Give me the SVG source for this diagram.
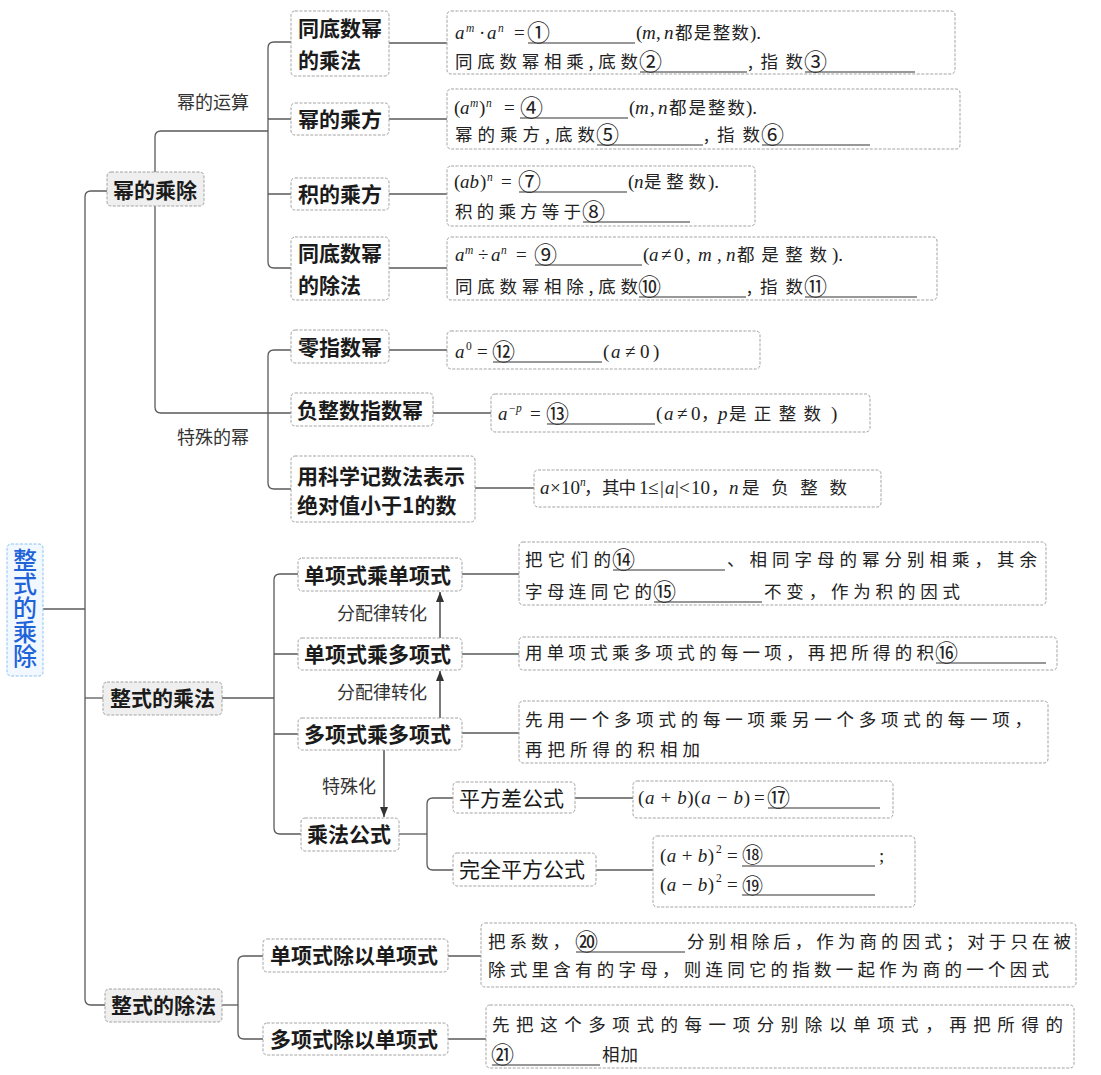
<svg xmlns="http://www.w3.org/2000/svg" width="1101" height="1075" viewBox="0 0 1101 1075">
<defs>
<style>
.nb{fill:#fff;stroke:#a3a3a3;stroke-width:1;stroke-dasharray:3 1.5}
.nb1{fill:#efefef}
.root{fill:#f2f8ff;stroke:#8ec3ee;stroke-width:1;stroke-dasharray:3 1.5}
.db{fill:#fff;stroke:#a3a3a3;stroke-width:1;stroke-dasharray:3 1.5}
.c{fill:none;stroke:#5a5a5a;stroke-width:1.3}
.ar{fill:none;stroke:#333;stroke-width:1.3}
.t{font-family:"Noto Sans CJK SC","Noto Sans",sans-serif;font-size:21px;font-weight:700;fill:#1b1b1b}
.tr{font-weight:400}
.rt{font-family:"Noto Sans CJK SC",sans-serif;font-size:24px;font-weight:500;fill:#1f63d8}
.el{font-family:"Noto Sans CJK SC",sans-serif;font-size:18px;fill:#333}
.z{font-family:"Noto Sans CJK SC",sans-serif;font-size:17.5px;fill:#222}
.m{font-family:"Liberation Serif","Noto Sans CJK SC",serif;font-size:19px;fill:#222}
.i{font-style:italic}
.s{font-size:11.5px}
.q{font-family:"Noto Sans CJK SC",sans-serif;font-size:23px;fill:#222}
.q2{font-size:21px}
.u{stroke:#333;stroke-width:1.1}
</style>
<marker id="ah" viewBox="0 0 10 8" refX="10" refY="4" markerWidth="10" markerHeight="8" markerUnits="userSpaceOnUse" orient="auto"><path d="M0,0 L10,4 L0,8 z" fill="#333"/></marker>
</defs>
<rect width="1101" height="1075" fill="#fff"/>

<g id="connectors">
<path class="c" d="M43,609 H85"/>
<path class="c" d="M107,191 H91 Q85,191 85,197 V999 Q85,1005 91,1005 H105"/>
<path class="c" d="M85,698 H103"/>
<path class="c" d="M155,172 V137 Q155,131 161,131 H268"/>
<path class="c" d="M291,42 H274 Q268,42 268,48 V262 Q268,268 274,268 H291"/>
<path class="c" d="M268,119 H291 M268,194 H291"/>
<path class="c" d="M155,206 V407 Q155,413 161,413 H291"/>
<path class="c" d="M291,350 H274 Q268,350 268,356 V483 Q268,489 274,489 H291"/>
<path class="c" d="M389,43 H447 M389,119 H447 M389,194 H447 M389,268 H447 M389,350 H447 M433,413 H491 M475,488 H534"/>
<path class="c" d="M222,698 H274"/>
<path class="c" d="M298,574 H280 Q274,574 274,580 V828 Q274,834 280,834 H301"/>
<path class="c" d="M274,654 H298 M274,734 H298"/>
<path class="ar" d="M440,638 V592" marker-end="url(#ah)"/>
<path class="ar" d="M440,718 V671" marker-end="url(#ah)"/>
<path class="ar" d="M384,750 V817" marker-end="url(#ah)"/>
<path class="c" d="M462,574 H519 M462,654 H519 M462,733 H519"/>
<path class="c" d="M399,834 H427"/>
<path class="c" d="M453,798 H433 Q427,798 427,804 V864 Q427,870 433,870 H453"/>
<path class="c" d="M575,798 H633 M596,870 H653"/>
<path class="c" d="M222,1005 H238"/>
<path class="c" d="M263,956 H244 Q238,956 238,962 V1033 Q238,1039 244,1039 H263"/>
<path class="c" d="M448,956 H481 M448,1039 H486"/>
<text class="el" x="177" y="109">幂的运算</text>
<text class="el" x="177" y="444">特殊的幂</text>
<text class="el" x="337" y="620">分配律转化</text>
<text class="el" x="337" y="699">分配律转化</text>
<text class="el" x="322" y="793">特殊化</text>
</g>

<g id="root">
<rect class="root" x="7" y="544" width="36" height="132" rx="4"/>
<text class="rt" x="25" y="548" style="writing-mode:vertical-rl">整式的乘除</text>
</g>

<g id="n-mi">
<rect class="nb nb1" x="107" y="172" width="97" height="34" rx="4"/>
<text class="t" x="113" y="198">幂的乘除</text>
</g>
<g id="n-zcf">
<rect class="nb nb1" x="103" y="682" width="119" height="33" rx="4"/>
<text class="t" x="110" y="706">整式的乘法</text>
</g>
<g id="n-zcuf">
<rect class="nb nb1" x="105" y="989" width="117" height="33" rx="4"/>
<text class="t" x="111" y="1013">整式的除法</text>
</g>

<g id="n-tdscf">
<rect class="nb" x="291" y="11" width="98" height="65" rx="4"/>
<text class="t" x="298" y="36">同底数幂</text>
<text class="t" x="298" y="68">的乘法</text>
</g>
<g id="n-mdcf">
<rect class="nb" x="291" y="103" width="98" height="32" rx="4"/>
<text class="t" x="298" y="127">幂的乘方</text>
</g>
<g id="n-jdcf">
<rect class="nb" x="291" y="178" width="98" height="32" rx="4"/>
<text class="t" x="298" y="202">积的乘方</text>
</g>
<g id="n-tdscuf">
<rect class="nb" x="291" y="237" width="98" height="63" rx="4"/>
<text class="t" x="298" y="261">同底数幂</text>
<text class="t" x="298" y="293">的除法</text>
</g>
<g id="n-lzsm">
<rect class="nb" x="291" y="330" width="98" height="33" rx="4"/>
<text class="t" x="298" y="355">零指数幂</text>
</g>
<g id="n-fzs">
<rect class="nb" x="291" y="393" width="142" height="33" rx="4"/>
<text class="t" x="297" y="418">负整数指数幂</text>
</g>
<g id="n-kxjs">
<rect class="nb" x="291" y="456" width="184" height="66" rx="4"/>
<text class="t" x="297" y="484">用科学记数法表示</text>
<text class="t" x="297" y="513">绝对值小于1的数</text>
</g>

<g id="n-dd">
<rect class="nb" x="298" y="558" width="164" height="33" rx="4"/>
<text class="t" x="304" y="583">单项式乘单项式</text>
</g>
<g id="n-dp">
<rect class="nb" x="298" y="638" width="164" height="32" rx="4"/>
<text class="t" x="304" y="662">单项式乘多项式</text>
</g>
<g id="n-pp">
<rect class="nb" x="298" y="718" width="164" height="32" rx="4"/>
<text class="t" x="304" y="742">多项式乘多项式</text>
</g>
<g id="n-cfgs">
<rect class="nb" x="301" y="818" width="98" height="33" rx="4"/>
<text class="t" x="307" y="842">乘法公式</text>
</g>
<g id="n-pfc">
<rect class="nb" x="453" y="782" width="122" height="31" rx="4"/>
<text class="t tr" x="459" y="806">平方差公式</text>
</g>
<g id="n-wqpf">
<rect class="nb" x="453" y="853" width="143" height="33" rx="4"/>
<text class="t tr" x="459" y="877">完全平方公式</text>
</g>
<g id="n-ddc">
<rect class="nb" x="263" y="939" width="185" height="33" rx="4"/>
<text class="t" x="270" y="963">单项式除以单项式</text>
</g>
<g id="n-pdc">
<rect class="nb" x="263" y="1023" width="185" height="32" rx="4"/>
<text class="t" x="270" y="1047">多项式除以单项式</text>
</g>

<g id="d1">
<rect class="db" x="447" y="11" width="508" height="63" rx="4"/>
<text class="m" y="39"><tspan class="i" x="455">a</tspan><tspan class="i s" x="466" y="32">m</tspan><tspan x="479" y="39">·</tspan><tspan class="i" x="487">a</tspan><tspan class="i s" x="498" y="32">n</tspan><tspan x="514" y="39">=</tspan></text>
<text class="q" x="527" y="41">①</text>
<line class="u" x1="528" y1="43" x2="635" y2="43"/>
<text class="m" y="39"><tspan x="636">(</tspan><tspan class="i" x="642">m</tspan><tspan x="656">,</tspan><tspan class="i" x="664">n</tspan></text>
<text class="z" x="675" y="39" textLength="74">都是整数</text>
<text class="m" x="750" y="39">).</text>
<text class="z" x="455" y="68" textLength="183">同底数幂相乘,底数</text>
<text class="q" x="639" y="70">②</text>
<line class="u" x1="640" y1="72" x2="747" y2="72"/>
<text class="z" x="748" y="68" textLength="55">,指数</text>
<text class="q" x="804" y="70">③</text>
<line class="u" x1="805" y1="72" x2="915" y2="72"/>
</g>

<g id="d2">
<rect class="db" x="447" y="89" width="513" height="60" rx="4"/>
<text class="m" y="114"><tspan x="454">(</tspan><tspan class="i" x="460">a</tspan><tspan class="i s" x="470" y="107">m</tspan><tspan x="479" y="114">)</tspan><tspan class="i s" x="486" y="107">n</tspan><tspan x="504" y="114">=</tspan></text>
<text class="q" x="520" y="116">④</text>
<line class="u" x1="520" y1="118" x2="628" y2="118"/>
<text class="m" y="114"><tspan x="629">(</tspan><tspan class="i" x="635">m</tspan><tspan x="650">,</tspan><tspan class="i" x="658">n</tspan></text>
<text class="z" x="669" y="114" textLength="76">都是整数</text>
<text class="m" x="746" y="114">).</text>
<text class="z" x="455" y="141" textLength="140">幂的乘方,底数</text>
<text class="q" x="596" y="143">⑤</text>
<line class="u" x1="597" y1="145" x2="703" y2="145"/>
<text class="z" x="704" y="141" textLength="56">,指数</text>
<text class="q" x="761" y="143">⑥</text>
<line class="u" x1="762" y1="145" x2="870" y2="145"/>
</g>

<g id="d3">
<rect class="db" x="447" y="166" width="308" height="60" rx="4"/>
<text class="m" y="188"><tspan x="454">(</tspan><tspan class="i" x="460">ab</tspan><tspan x="480">)</tspan><tspan class="i s" x="487" y="181">n</tspan><tspan x="501" y="188">=</tspan></text>
<text class="q" x="518" y="190">⑦</text>
<line class="u" x1="519" y1="192" x2="627" y2="192"/>
<text class="m" y="188"><tspan x="628">(</tspan><tspan class="i" x="634">n</tspan></text>
<text class="z" x="644" y="188" textLength="62">是整数</text>
<text class="m" x="708" y="188">).</text>
<text class="z" x="455" y="218" textLength="126">积的乘方等于</text>
<text class="q" x="582" y="220">⑧</text>
<line class="u" x1="583" y1="222" x2="690" y2="222"/>
</g>

<g id="d4">
<rect class="db" x="447" y="237" width="490" height="63" rx="4"/>
<text class="m" y="261"><tspan class="i" x="455">a</tspan><tspan class="i s" x="465" y="254">m</tspan><tspan x="478" y="261">÷</tspan><tspan class="i" x="491">a</tspan><tspan class="i s" x="501" y="254">n</tspan><tspan x="516" y="261">=</tspan></text>
<text class="q" x="534" y="263">⑨</text>
<line class="u" x1="535" y1="265" x2="642" y2="265"/>
<text class="m" y="261"><tspan x="643">(</tspan><tspan class="i" x="649">a</tspan><tspan x="661">≠</tspan><tspan x="674">0</tspan><tspan x="686">,</tspan><tspan class="i" x="698">m</tspan><tspan x="717">,</tspan><tspan class="i" x="726">n</tspan></text>
<text class="z" x="737" y="261" textLength="90">都是整数</text>
<text class="m" x="832" y="261">).</text>
<text class="z" x="455" y="293" textLength="183">同底数幂相除,底数</text>
<text class="q" x="638" y="295">⑩</text>
<line class="u" x1="639" y1="297" x2="746" y2="297"/>
<text class="z" x="747" y="293" textLength="56">,指数</text>
<text class="q" x="804" y="295">⑪</text>
<line class="u" x1="805" y1="297" x2="917" y2="297"/>
</g>

<g id="d12">
<rect class="db" x="447" y="331" width="313" height="38" rx="4"/>
<text class="m" y="358"><tspan class="i" x="455">a</tspan><tspan class="s" x="466" y="350">0</tspan><tspan x="477" y="358">=</tspan></text>
<text class="q" x="492" y="360">⑫</text>
<line class="u" x1="493" y1="362" x2="602" y2="362"/>
<text class="m" y="358"><tspan x="603">(</tspan><tspan class="i" x="611">a</tspan><tspan x="625">≠</tspan><tspan x="640">0</tspan><tspan x="653">)</tspan></text>
</g>

<g id="d13">
<rect class="db" x="491" y="394" width="379" height="38" rx="4"/>
<text class="m" y="420"><tspan class="i" x="498">a</tspan><tspan class="s" x="509" y="412">−</tspan><tspan class="i s" x="516" y="412">p</tspan><tspan x="530" y="420">=</tspan></text>
<text class="q" x="546" y="422">⑬</text>
<line class="u" x1="547" y1="424" x2="655" y2="424"/>
<text class="m" y="420"><tspan x="656">(</tspan><tspan class="i" x="664">a</tspan><tspan x="677">≠</tspan><tspan x="691">0</tspan></text>
<text class="z" x="701" y="420">，</text>
<text class="m i" x="718" y="420">p</text>
<text class="z" x="729" y="420" textLength="92">是正整数</text>
<text class="m" x="831" y="420">)</text>
</g>

<g id="d-sci">
<rect class="db" x="534" y="470" width="347" height="37" rx="4"/>
<text class="m" y="494"><tspan class="i" x="540">a</tspan><tspan x="550">×</tspan><tspan x="561">10</tspan><tspan class="i s" x="580" y="486">n</tspan></text>
<text class="z" x="584" y="494">，</text>
<text class="z" x="602" y="494" textLength="34">其中</text>
<text class="m" y="494"><tspan x="639">1</tspan><tspan x="648">≤</tspan><tspan x="660">|</tspan><tspan class="i" x="665">a</tspan><tspan x="675">|</tspan><tspan x="679">&lt;</tspan><tspan x="691">10</tspan></text>
<text class="z" x="711" y="494">，</text>
<text class="m i" x="729" y="494">n</text>
<text class="z" x="742" y="494" textLength="105">是负整数</text>
</g>

<g id="d14">
<rect class="db" x="519" y="542" width="527" height="63" rx="4"/>
<text class="z" x="525" y="566" textLength="86">把它们的</text>
<text class="q" x="612" y="568">⑭</text>
<line class="u" x1="613" y1="570" x2="725" y2="570"/>
<text class="z" x="727" y="566" textLength="310">、相同字母的幂分别相乘，其余</text>
<text class="z" x="525" y="598" textLength="127">字母连同它的</text>
<text class="q" x="653" y="600">⑮</text>
<line class="u" x1="654" y1="602" x2="762" y2="602"/>
<text class="z" x="764" y="598" textLength="196">不变，作为积的因式</text>
</g>

<g id="d16">
<rect class="db" x="519" y="637" width="538" height="33" rx="4"/>
<text class="z" x="525" y="659" textLength="409">用单项式乘多项式的每一项，再把所得的积</text>
<text class="q" x="935" y="661">⑯</text>
<line class="u" x1="936" y1="663" x2="1046" y2="663"/>
</g>

<g id="d-pp">
<rect class="db" x="519" y="701" width="529" height="62" rx="4"/>
<text class="z" x="525" y="726" textLength="507">先用一个多项式的每一项乘另一个多项式的每一项，</text>
<text class="z" x="525" y="756" textLength="175">再把所得的积相加</text>
</g>

<g id="d17">
<rect class="db" x="633" y="781" width="260" height="37" rx="4"/>
<text class="m" x="638" y="804" textLength="112" xml:space="preserve">(<tspan class="i">a</tspan> + <tspan class="i">b</tspan>)(<tspan class="i">a</tspan> − <tspan class="i">b</tspan>)</text>
<text class="m" x="754" y="804">=</text>
<text class="q" x="767" y="806">⑰</text>
<line class="u" x1="768" y1="808" x2="880" y2="808"/>
</g>

<g id="d18">
<rect class="db" x="653" y="836" width="262" height="71" rx="4"/>
<text class="m" x="660" y="862" textLength="54" xml:space="preserve">(<tspan class="i">a</tspan> + <tspan class="i">b</tspan>)</text>
<text class="m s" x="716" y="853">2</text>
<text class="m" x="727" y="862">=</text>
<text class="q q2" x="742" y="862">⑱</text>
<line class="u" x1="742" y1="866" x2="875" y2="866"/>
<text class="m" x="879" y="862">;</text>
<text class="m" x="660" y="891" textLength="54" xml:space="preserve">(<tspan class="i">a</tspan> − <tspan class="i">b</tspan>)</text>
<text class="m s" x="716" y="882">2</text>
<text class="m" x="727" y="891">=</text>
<text class="q q2" x="742" y="893">⑲</text>
<line class="u" x1="742" y1="895" x2="875" y2="895"/>
</g>

<g id="d20">
<rect class="db" x="481" y="923" width="595" height="64" rx="4"/>
<text class="z" x="488" y="948" textLength="82">把系数，</text>
<text class="q" x="575" y="950">⑳</text>
<line class="u" x1="576" y1="952" x2="685" y2="952"/>
<text class="z" x="687" y="948" textLength="384">分别相除后，作为商的因式；对于只在被</text>
<text class="z" x="488" y="976" textLength="561">除式里含有的字母，则连同它的指数一起作为商的一个因式</text>
</g>

<g id="d21">
<rect class="db" x="486" y="1005" width="588" height="63" rx="4"/>
<text class="z" x="492" y="1031" textLength="571">先把这个多项式的每一项分别除以单项式，再把所得的</text>
<text class="q" x="491" y="1063">㉑</text>
<line class="u" x1="492" y1="1065" x2="600" y2="1065"/>
<text class="z" x="602" y="1061" textLength="36">相加</text>
</g>
</svg>
